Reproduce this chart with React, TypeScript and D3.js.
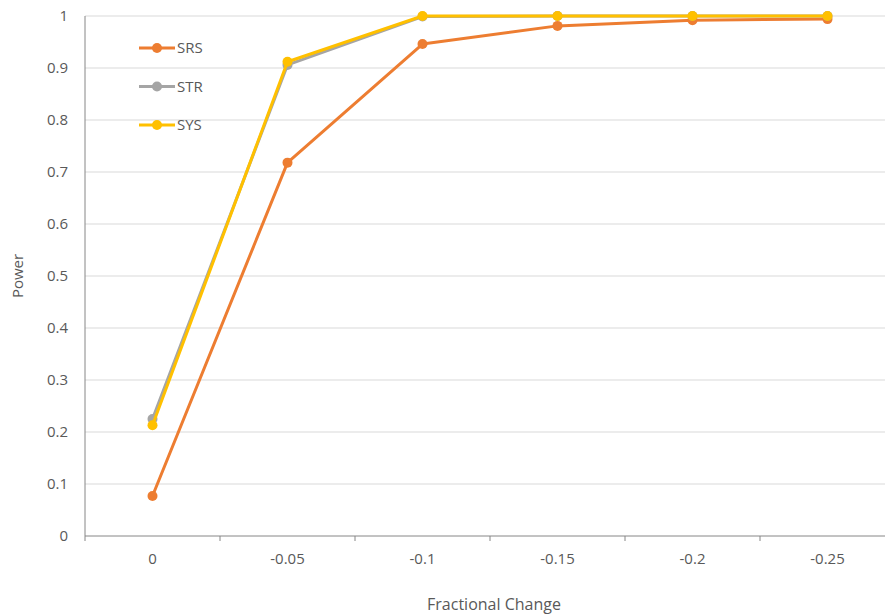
import React from "react";
import * as d3 from "d3";

const categories = ["0", "-0.05", "-0.1", "-0.15", "-0.2", "-0.25"];
const srs = [0.077, 0.718, 0.946, 0.981, 0.992, 0.994];
const str = [0.225, 0.906, 0.999, 1.0, 1.0, 1.0];
const sys = [0.213, 0.912, 1.0, 1.0, 1.0, 1.0];
const yTicks = [0, 0.1, 0.2, 0.3, 0.4, 0.5, 0.6, 0.7, 0.8, 0.9, 1];

const seriesList = [
  { name: "SRS", values: srs, color: "#ED7D31" },
  { name: "STR", values: str, color: "#A5A5A5" },
  { name: "SYS", values: sys, color: "#FFC000" },
];

const W = 885;
const H = 616;
const left = 85;
const top = 16;
const bottom = 536;
const bandW = 135;
const font = "'Open Sans', 'Noto Sans', sans-serif";
const textColor = "#595959";

export default function App() {
  const x = d3
    .scaleBand<string>()
    .domain(categories)
    .range([left, left + bandW * categories.length]);
  const y = d3.scaleLinear().domain([0, 1]).range([bottom, top]);
  const cx = (i: number) => (x(categories[i]) as number) + x.bandwidth() / 2;
  const line = d3
    .line<number>()
    .x((_, i) => cx(i))
    .y((v) => y(v));

  return (
    <svg
      width={W}
      height={H}
      style={{ position: "absolute", left: 0, top: 0, background: "#fff" }}
      fontFamily={font}
    >
      {yTicks.map((t) => (
        <g key={t}>
          {t > 0 && (
            <line x1={left} x2={W} y1={y(t)} y2={y(t)} stroke="#D9D9D9" strokeWidth={1} />
          )}
          <text x={left - 17} y={y(t)} dy="0.35em" textAnchor="end" fontSize={15} fill={textColor}>
            {t}
          </text>
        </g>
      ))}
      <line x1={left} x2={left} y1={top} y2={bottom} stroke="#868686" strokeWidth={1} />
      <line x1={left} x2={W} y1={bottom} y2={bottom} stroke="#868686" strokeWidth={1} />
      {d3.range(categories.length + 1).map((i) => (
        <line
          key={i}
          x1={left + i * bandW}
          x2={left + i * bandW}
          y1={bottom}
          y2={bottom + 5}
          stroke="#868686"
        />
      ))}
      {categories.map((c, i) => (
        <text
          key={c}
          x={cx(i)}
          y={bottom + 23}
          dy="0.35em"
          textAnchor="middle"
          fontSize={15}
          fill={textColor}
        >
          {c}
        </text>
      ))}
      {seriesList.map((s) => (
        <g key={s.name}>
          <path d={line(s.values) || ""} fill="none" stroke={s.color} strokeWidth={3} strokeLinejoin="round" />
          {s.values.map((v, i) => (
            <circle key={i} cx={cx(i)} cy={y(v)} r={5} fill={s.color} />
          ))}
        </g>
      ))}
      {seriesList.map((s, i) => {
        const ly = 48 + i * 38.5;
        return (
          <g key={s.name}>
            <line x1={139} x2={175} y1={ly} y2={ly} stroke={s.color} strokeWidth={3} />
            <circle cx={157} cy={ly} r={5} fill={s.color} />
            <text x={177} y={ly} dy="0.35em" fontSize={15} fill={textColor}>
              {s.name}
            </text>
          </g>
        );
      })}
      <text
        transform={`translate(18, ${(top + bottom) / 2}) rotate(-90)`}
        textAnchor="middle"
        dy="0.35em"
        fontSize={15}
        fill={textColor}
      >
        Power
      </text>
      <text x={494} y={604} dy="0.35em" textAnchor="middle" fontSize={16} fill={textColor}>
        Fractional Change
      </text>
    </svg>
  );
}
